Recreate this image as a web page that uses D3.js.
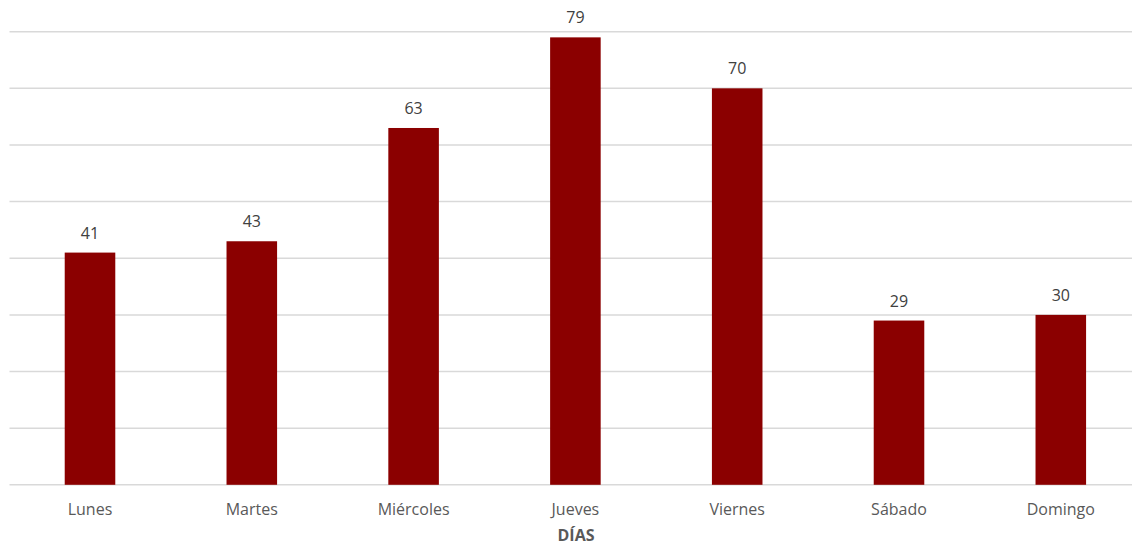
<!DOCTYPE html>
<html><head><meta charset="utf-8">
<script src="https://cdn.jsdelivr.net/npm/d3@7"></script>
<style>body{margin:0;background:#fff}svg{display:block}</style>
</head><body>
<script>
const categories = ["Lunes","Martes","Miércoles","Jueves","Viernes","Sábado","Domingo"];
const values = [41,43,63,79,70,29,30];
const yTicks = [0,10,20,30,40,50,60,70,80];
const axisTitle = "DÍAS";

const W = 1132, H = 548;
const svg = d3.select("body").append("svg").attr("width", W).attr("height", H);
const font = "'Open Sans', 'Noto Sans', sans-serif";

const x = d3.scaleBand().domain(categories).range([9.1, 1141.7]).padding(0);
const y = d3.scaleLinear().domain([0, 80]).range([484.8, 31.7]);
const barW = x.step() * 0.3125;

svg.append("g").selectAll("line").data(yTicks).join("line")
  .attr("x1", 9.5).attr("x2", W)
  .attr("y1", d => y(d)).attr("y2", d => y(d))
  .attr("stroke", "#d9d9d9").attr("stroke-width", 1.5);

svg.append("g").selectAll("rect").data(values).join("rect")
  .attr("x", (d,i) => x(categories[i]) + x.bandwidth()/2 - barW/2)
  .attr("width", barW)
  .attr("y", d => y(d))
  .attr("height", d => y(0) - y(d))
  .attr("fill", "#8b0000");

svg.append("g").selectAll("text").data(values).join("text")
  .attr("x", (d,i) => x(categories[i]) + x.bandwidth()/2)
  .attr("y", d => y(d) - 14)
  .attr("text-anchor", "middle")
  .attr("font-family", font).attr("font-size", 16).attr("fill", "#404040")
  .text(d => d);

svg.append("g").selectAll("text").data(categories).join("text")
  .attr("x", d => x(d) + x.bandwidth()/2)
  .attr("y", 515)
  .attr("text-anchor", "middle")
  .attr("font-family", font).attr("font-size", 16).attr("fill", "#595959")
  .text(d => d);

svg.append("text")
  .attr("x", 576).attr("y", 541)
  .attr("text-anchor", "middle")
  .attr("font-family", font).attr("font-size", 16).attr("font-weight", "bold").attr("fill", "#595959")
  .text(axisTitle);
</script>
</body></html>
